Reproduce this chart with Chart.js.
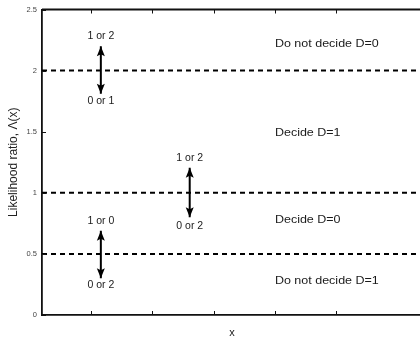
<!DOCTYPE html>
<html>
<head>
<meta charset="utf-8">
<script src="https://cdn.jsdelivr.net/npm/chart.js@4.4.1/dist/chart.umd.min.js"></script>
<style>
  html, body { margin: 0; padding: 0; background: #fff; overflow: hidden; width: 420px; height: 344px; }
  canvas { display: block; }
</style>
</head>
<body>
<canvas id="c" width="440" height="344"></canvas>
<script>
// ---- data ----
const yTickLabels = ['0', '0.5', '1', '1.5', '2', '2.5'];
const thresholds = [2, 1, 0.5];
const arrowX = [1.16, 2.61, 1.16];
const arrowLow = [1.81, 0.80, 0.30];
const arrowHigh = [2.20, 1.205, 0.69];
const arrowTopLabels = ['1 or 2', '1 or 2', '1 or 0'];
const arrowTopLabelY = [2.28, 1.28, 0.77];
const arrowBottomLabels = ['0 or 1', '0 or 2', '0 or 2'];
const arrowBottomLabelY = [1.75, 0.73, 0.245];
const regionLabels = ['Do not decide D=0', 'Decide D=1', 'Decide D=0', 'Do not decide D=1'];
const regionLabelY = [2.215, 1.49, 0.774, 0.277];
const regionLabelX = 4.0;
const xMin = 0.2, xMax = 6.4, yMin = 0, yMax = 2.5;

const datasets = [];
thresholds.forEach(t => {
  datasets.push({
    type: 'line',
    data: [{x: xMin, y: t}, {x: xMax, y: t}],
    borderColor: '#000', borderWidth: 2, borderDash: [5, 4],
    pointRadius: 0, fill: false, clip: false
  });
});
arrowX.forEach((ax, i) => {
  datasets.push({
    type: 'line', isArrow: true,
    data: [{x: ax, y: arrowLow[i]}, {x: ax, y: arrowHigh[i]}],
    borderColor: '#000', borderWidth: 2,
    pointRadius: 0, fill: false
  });
});

const decorPlugin = {
  id: 'decor',
  afterDatasetsDraw(chart) {
    const {ctx, chartArea: ca, scales: {x, y}} = chart;
    ctx.save();
    // top axis line
    ctx.strokeStyle = '#111';
    ctx.lineWidth = 1.8;
    ctx.beginPath();
    ctx.moveTo(ca.left, ca.top);
    ctx.lineTo(ca.right, ca.top);
    ctx.stroke();
    // inward ticks
    ctx.lineWidth = 1;
    x.ticks.forEach(t => {
      if (Math.abs(t.value - Math.round(t.value)) > 1e-6) return;
      const px = Math.round(x.getPixelForValue(t.value)) + 0.5;
      ctx.beginPath();
      ctx.moveTo(px, ca.bottom); ctx.lineTo(px, ca.bottom - 4);
      ctx.moveTo(px, ca.top); ctx.lineTo(px, ca.top + 4);
      ctx.stroke();
    });
    y.ticks.forEach(t => {
      const py = Math.round(y.getPixelForValue(t.value)) + 0.5;
      ctx.beginPath();
      ctx.moveTo(ca.left, py); ctx.lineTo(ca.left + 4, py);
      ctx.stroke();
    });
    // arrowheads
    ctx.fillStyle = '#000';
    chart.data.datasets.forEach((ds, di) => {
      if (!ds.isArrow) return;
      const meta = chart.getDatasetMeta(di);
      const lo = meta.data[0], hi = meta.data[1];
      const head = (px, py, dir) => {
        ctx.beginPath();
        ctx.moveTo(px, py);
        ctx.lineTo(px - 4, py - dir * 10);
        ctx.lineTo(px, py - dir * 8);
        ctx.lineTo(px + 4, py - dir * 10);
        ctx.closePath();
        ctx.fill();
      };
      head(hi.x, hi.y, -1);
      head(lo.x, lo.y, 1);
    });
    // text labels
    ctx.fillStyle = '#1a1a1a';
    ctx.textBaseline = 'middle';
    const drawText = (txt, px, py, align, sx, size) => {
      ctx.save();
      ctx.font = size + 'px "Liberation Sans", Arial, sans-serif';
      ctx.textAlign = align;
      ctx.translate(px, py);
      ctx.scale(sx, 1);
      ctx.fillText(txt, 0, 0);
      ctx.restore();
    };
    arrowX.forEach((ax, i) => {
      const px = x.getPixelForValue(ax);
      drawText(arrowTopLabels[i], px, y.getPixelForValue(arrowTopLabelY[i]), 'center', 1.05, 10);
      drawText(arrowBottomLabels[i], px, y.getPixelForValue(arrowBottomLabelY[i]), 'center', 1.05, 10);
    });
    regionLabels.forEach((lbl, i) => {
      drawText(lbl, x.getPixelForValue(regionLabelX), y.getPixelForValue(regionLabelY[i]), 'left', 1.25, 10);
    });
    ctx.restore();
  }
};

new Chart(document.getElementById('c'), {
  type: 'scatter',
  data: { datasets },
  options: {
    responsive: false,
    animation: false,
    devicePixelRatio: 1,
    layout: { padding: { left: 0, top: 8, right: 18, bottom: 0 } },
    plugins: { legend: { display: false }, tooltip: { enabled: false } },
    scales: {
      x: {
        type: 'linear', min: xMin, max: xMax,
        ticks: { display: false, stepSize: 1 },
        grid: { display: false },
        border: { display: true, color: '#111', width: 1.8 },
        title: {
          display: true, text: 'x', color: '#222',
          font: { family: '"Liberation Sans", Arial, sans-serif', size: 11 },
          padding: { top: 0, bottom: 4 }
        },
        afterFit: s => { s.height = 29; }
      },
      y: {
        type: 'linear', min: yMin, max: yMax,
        afterBuildTicks: s => { s.ticks = yTickLabels.map(v => ({ value: parseFloat(v) })); },
        ticks: {
          color: '#444', padding: 5,
          font: { family: '"Liberation Sans", Arial, sans-serif', size: 7.5 },
          callback: v => yTickLabels.find(l => parseFloat(l) === v)
        },
        grid: { display: false, drawTicks: false },
        border: { display: true, color: '#111', width: 1.8 },
        title: {
          display: true, text: 'Likelihood ratio, Λ(x)', color: '#222',
          font: { family: '"Liberation Sans", Arial, sans-serif', size: 12 },
          padding: { top: 6, bottom: 0 }
        },
        afterFit: s => { s.width = 42; }
      }
    }
  },
  plugins: [decorPlugin]
});
</script>
</body>
</html>
